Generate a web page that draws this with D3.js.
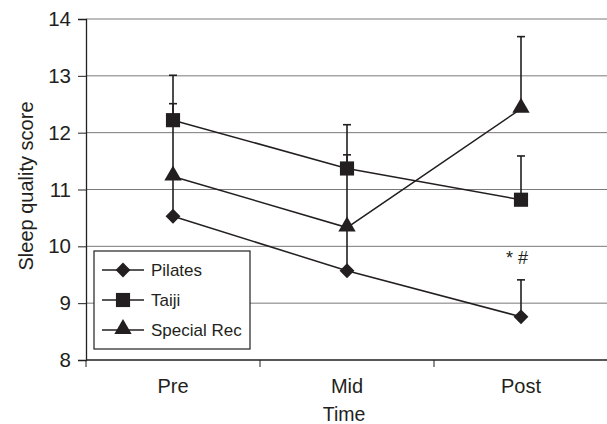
<!DOCTYPE html>
<html>
<head>
<meta charset="utf-8">
<script src="https://cdn.jsdelivr.net/npm/d3@7"></script>
<style>
  body { margin: 0; background: #fff; }
  text { font-family: "Liberation Sans", Arial, sans-serif; fill: #231f20; }
</style>
</head>
<body>
<div id="chart"></div>
<script>
// data
var times = ["Pre", "Mid", "Post"];
var yTicks = [8, 9, 10, 11, 12, 13, 14];
var seriesNames = ["Pilates", "Taiji", "Special Rec"];
var pilates = [10.53, 9.57, 8.76];
var pilatesUpper = [11.2, 10.3, 9.41];
var taiji = [12.22, 11.37, 10.82];
var taijiUpper = [13.01, 12.14, 11.59];
var specialRec = [11.23, 10.33, 12.42];
var specialRecUpper = [12.51, 11.61, 13.69];

var series = [
    { name: seriesNames[0], values: pilates, upper: pilatesUpper, symbol: "diamond" },
    { name: seriesNames[1], values: taiji, upper: taijiUpper, symbol: "square" },
    { name: seriesNames[2], values: specialRec, upper: specialRecUpper, symbol: "triangle" }
];

var width = 607, height = 424,
    margin = { top: 19, right: -1, bottom: 64, left: 86 },
    innerW = width - margin.left - margin.right,
    innerH = height - margin.top - margin.bottom,
    ink = "#231f20";

var svg = d3.select("#chart").append("svg")
    .attr("width", width)
    .attr("height", height);

var g = svg.append("g")
    .attr("transform", "translate(" + margin.left + "," + margin.top + ")");

var x = d3.scaleBand().domain(times).range([0, innerW]);
var y = d3.scaleLinear().domain([8, 14]).range([innerH, 0]);

function cx(i) { return x(times[i]) + x.bandwidth() / 2; }

// gridlines
g.selectAll(".grid")
    .data(yTicks.filter(function (d) { return d > 8; }))
    .enter().append("line")
    .attr("x1", 0).attr("x2", innerW)
    .attr("y1", function (d) { return y(d); })
    .attr("y2", function (d) { return y(d); })
    .attr("stroke", "#7a7a7a")
    .attr("stroke-width", 1);

// y axis
var yAxis = g.append("g")
    .call(d3.axisLeft(y).tickValues(yTicks).tickFormat(d3.format("d")).tickSize(8).tickPadding(7));
yAxis.select(".domain").attr("stroke", ink).attr("stroke-width", 1.3);
yAxis.selectAll(".tick line").attr("stroke", ink);
yAxis.selectAll("text").attr("font-size", 20.5).attr("fill", ink)
    .style("font-family", "Liberation Sans, Arial, sans-serif");

// x axis: ticks on the band boundaries
var xAxis = g.append("g").attr("transform", "translate(0," + innerH + ")");
xAxis.append("line").attr("x1", 0).attr("x2", innerW)
    .attr("stroke", ink).attr("stroke-width", 1.3);
xAxis.selectAll(".xtick")
    .data(times.map(function (t) { return x(t); }).concat([innerW]))
    .enter().append("line")
    .attr("x1", function (d) { return d; }).attr("x2", function (d) { return d; })
    .attr("y1", 0).attr("y2", 7)
    .attr("stroke", ink);
xAxis.selectAll(".xlabel")
    .data(times)
    .enter().append("text")
    .attr("x", function (d, i) { return cx(i); })
    .attr("y", 33)
    .attr("text-anchor", "middle")
    .attr("font-size", 20)
    .text(function (d) { return d; });

// axis titles
svg.append("text")
    .attr("x", margin.left + cx(1) - 3)
    .attr("y", 421)
    .attr("text-anchor", "middle")
    .attr("font-size", 19.5)
    .text("Time");

svg.append("text")
    .attr("transform", "translate(33,186) rotate(-90)")
    .attr("text-anchor", "middle")
    .attr("font-size", 20)
    .text("Sleep quality score");

var symbols = {
    diamond: d3.symbol().type(d3.symbolSquare).size(110),
    square: d3.symbol().type(d3.symbolSquare).size(200),
    triangle: d3.symbol().type(d3.symbolTriangle).size(130)
};
function markerTransform(s, px, py) {
    if (s === "diamond") return "translate(" + px + "," + py + ") rotate(45)";
    if (s === "triangle") return "translate(" + px + "," + (py - 1) + ")";
    return "translate(" + px + "," + py + ")";
}

// error bars (upper only)
series.forEach(function (s) {
    s.values.forEach(function (v, i) {
        g.append("line")
            .attr("x1", cx(i)).attr("x2", cx(i))
            .attr("y1", y(v)).attr("y2", y(s.upper[i]))
            .attr("stroke", ink).attr("stroke-width", 1.6);
        g.append("line")
            .attr("x1", cx(i) - 4).attr("x2", cx(i) + 4)
            .attr("y1", y(s.upper[i])).attr("y2", y(s.upper[i]))
            .attr("stroke", ink).attr("stroke-width", 1.6);
    });
});

// lines
var line = d3.line()
    .x(function (d, i) { return cx(i); })
    .y(function (d) { return y(d); });

series.forEach(function (s) {
    g.append("path")
        .datum(s.values)
        .attr("d", line)
        .attr("fill", "none")
        .attr("stroke", ink)
        .attr("stroke-width", 1.5);
});

// markers
series.forEach(function (s) {
    g.selectAll(".m-" + s.symbol)
        .data(s.values)
        .enter().append("path")
        .attr("d", symbols[s.symbol])
        .attr("transform", function (d, i) { return markerTransform(s.symbol, cx(i), y(d)); })
        .attr("fill", ink);
});

// significance marks
g.append("text")
    .attr("x", cx(2) - 4)
    .attr("y", y(9.98) + 17)
    .attr("text-anchor", "middle")
    .attr("font-size", 18)
    .text("* #");

// legend
var legend = svg.append("g").attr("transform", "translate(94,251)");
legend.append("rect")
    .attr("width", 156).attr("height", 98)
    .attr("fill", "#fff")
    .attr("stroke", ink).attr("stroke-width", 1.2);

var items = legend.selectAll(".item")
    .data(series)
    .enter().append("g")
    .attr("transform", function (d, i) { return "translate(0," + (19 + i * 30) + ")"; });
items.append("line")
    .attr("x1", 8).attr("x2", 50)
    .attr("stroke", ink).attr("stroke-width", 1.5);
items.append("path")
    .attr("d", function (d) { return symbols[d.symbol](); })
    .attr("transform", function (d) { return markerTransform(d.symbol, 29, 0); })
    .attr("fill", ink);
items.append("text")
    .attr("x", 57).attr("y", 6)
    .attr("font-size", 17)
    .text(function (d) { return d.name; });
</script>
</body>
</html>
